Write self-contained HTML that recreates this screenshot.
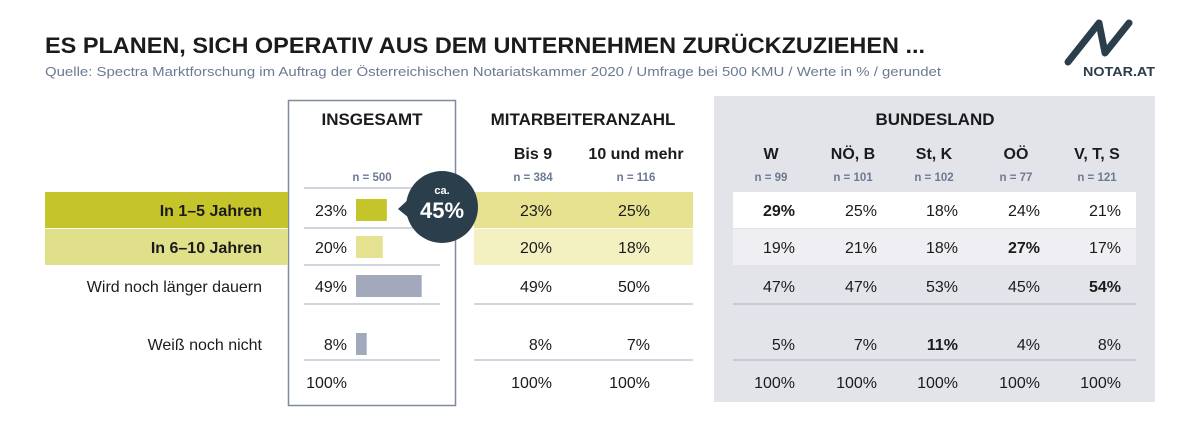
<!DOCTYPE html>
<html><head><meta charset="utf-8"><style>
body{margin:0;background:#fff;}
svg text{font-family:"Liberation Sans",sans-serif;}
</style></head><body>
<svg width="1200" height="421" viewBox="0 0 1200 421" xmlns="http://www.w3.org/2000/svg" id="c">
<text x="45" y="53" font-size="22" font-weight="bold" fill="#1b1b1b" textLength="880" lengthAdjust="spacingAndGlyphs">ES PLANEN, SICH OPERATIV AUS DEM UNTERNEHMEN ZURÜCKZUZIEHEN ...</text>
<text x="45" y="76" font-size="12.5" fill="#6b7a93" textLength="896" lengthAdjust="spacingAndGlyphs">Quelle: Spectra Marktforschung im Auftrag der Österreichischen Notariatskammer 2020 / Umfrage bei 500 KMU / Werte in % / gerundet</text>
<g>
<polyline points="1068,62 1099,23 1105,53 1129,23" fill="none" stroke="#2b3e4b" stroke-width="7" stroke-linecap="round" stroke-linejoin="round"/>
<text x="1083" y="76" font-size="13" font-weight="bold" fill="#2b3e4b" textLength="72" lengthAdjust="spacingAndGlyphs">NOTAR.AT</text>
</g>
<rect x="714" y="96" width="441" height="306" fill="#e3e4ea"/>
<rect x="288.5" y="100.5" width="167" height="305" fill="none" stroke="#7f8aa0" stroke-width="1.5"/>
<g id="g"></g>
</svg>
<script>
const rowLabels=["In 1–5 Jahren","In 6–10 Jahren","Wird noch länger dauern","Weiß noch nicht"];
const totalVals=[23,20,49,8];
const bis9=[23,20,49,8];
const zehnPlus=[25,18,50,7];
const blNames=["W","NÖ, B","St, K","OÖ","V, T, S"];
const blN=["n=99","n=101","n=102","n=77","n=121"];
const blVals=[[29,19,47,5],[25,21,47,7],[18,18,53,11],[24,27,45,4],[21,17,54,8]];
const blBold=[[0],[],[3],[1],[2]];
const ns="http://www.w3.org/2000/svg",g=document.getElementById('g');
function el(t,a,txt){const e=document.createElementNS(ns,t);for(const k in a)e.setAttribute(k,a[k]);if(txt!=null)e.textContent=txt;g.appendChild(e);return e;}
const rowY=[210,247,286,344],totY=382;
const barX=356,scale=1.34;
function xv(v){return barX+v*scale;}
let e;
e=el('rect',{x:45,y:192,width:243,height:36,fill:"#c5c42a"});
e=el('rect',{x:45,y:229,width:243,height:36,fill:"#e0df8a"});
e=el('rect',{x:474,y:192,width:219,height:36,fill:"#e6e28f"});
e=el('rect',{x:474,y:229,width:219,height:36,fill:"#f3f0c2"});
e=el('rect',{x:733,y:192,width:403,height:36,fill:"#ffffff"});
e=el('rect',{x:733,y:229,width:403,height:36,fill:"#eeeef3"});
[[304,440,188],[304,440,228],[304,440,265],[304,440,304],[304,440,360],[474,693,304],[474,693,360],[733,1136,304],[733,1136,360]].forEach(l=>{
 e=el('line',{x1:l[0],x2:l[1],y1:l[2],y2:l[2],stroke:"#b8bccb","stroke-width":1.2});});
const H=(x,y,s,t,w,c,n)=>{const e=el('text',{x:x,y:y,"font-size":s,"font-weight":w||"bold","text-anchor":"middle",fill:c||"#1b1b1b"},t);};
H(372,125,17,"INSGESAMT",0,0,'insgesamt-header');
H(583,125,17,"MITARBEITERANZAHL",0,0,'mitarbeiter-header');
H(935,125,17,"BUNDESLAND",0,0,'bundesland-header');
H(372,181,11.5,"n = 500",0,"#6b7a93",'n-total');
H(533,159,16,"Bis 9",0,0,'col-bis9');H(636,159,16,"10 und mehr",0,0,'col-10plus');
H(533,181,11.5,"n = 384",0,"#6b7a93",'n-bis9');H(636,181,11.5,"n = 116",0,"#6b7a93",'n-10plus');
const blX=[771,853,934,1016,1097];
blNames.forEach((n,i)=>{H(blX[i],159,16,n,0,0,'col-bl');H(blX[i],181,11.5,blN[i].replace('=',' = '),0,"#6b7a93",'n-bl');});
rowLabels.forEach((t,i)=>{e=el('text',{x:262,y:rowY[i]+6,"font-size":16,"font-weight":i<2?"bold":"normal","text-anchor":"end",fill:"#1b1b1b"},t);
 });
const barCol=["#c5c42a","#e5e391","#a3a9bc","#a3a9bc"];
totalVals.forEach((v,i)=>{
 e=el('text',{x:347,y:rowY[i]+6,"font-size":16,"text-anchor":"end",fill:"#1b1b1b"},v+"%");
 e=el('rect',{x:barX,y:rowY[i]-11,width:xv(v)-barX,height:22,fill:barCol[i]});
});
e=el('text',{x:347,y:totY+6,"font-size":16,"text-anchor":"end",fill:"#1b1b1b"},"100%");
[[bis9,552],[zehnPlus,650]].forEach(([arr,x])=>{
 arr.forEach((v,i)=>{e=el('text',{x:x,y:rowY[i]+6,"font-size":16,"text-anchor":"end",fill:"#1b1b1b"},v+"%");});
 e=el('text',{x:x,y:totY+6,"font-size":16,"text-anchor":"end",fill:"#1b1b1b"},"100%");
});
blVals.forEach((arr,c)=>{
 arr.forEach((v,i)=>{const b=blBold[c].includes(i);
  e=el('text',{x:blX[c]+24,y:rowY[i]+6,"font-size":16,"font-weight":b?"bold":"normal","text-anchor":"end",fill:"#1b1b1b"},v+"%");
  });
 e=el('text',{x:blX[c]+24,y:totY+6,"font-size":16,"text-anchor":"end",fill:"#1b1b1b"},"100%");
});
e=el('path',{d:"M412,196 L398,209 L414,222 Z",fill:"#2b3e4b"});
e=el('circle',{cx:442,cy:207,r:36,fill:"#2b3e4b"});
e=el('text',{x:442,y:194,"font-size":11,"font-weight":"bold","text-anchor":"middle",fill:"#fff"},"ca.");
e=el('text',{x:442,y:218,"font-size":22,"font-weight":"bold","text-anchor":"middle",fill:"#fff"},"45%");
</script>
</body></html>
